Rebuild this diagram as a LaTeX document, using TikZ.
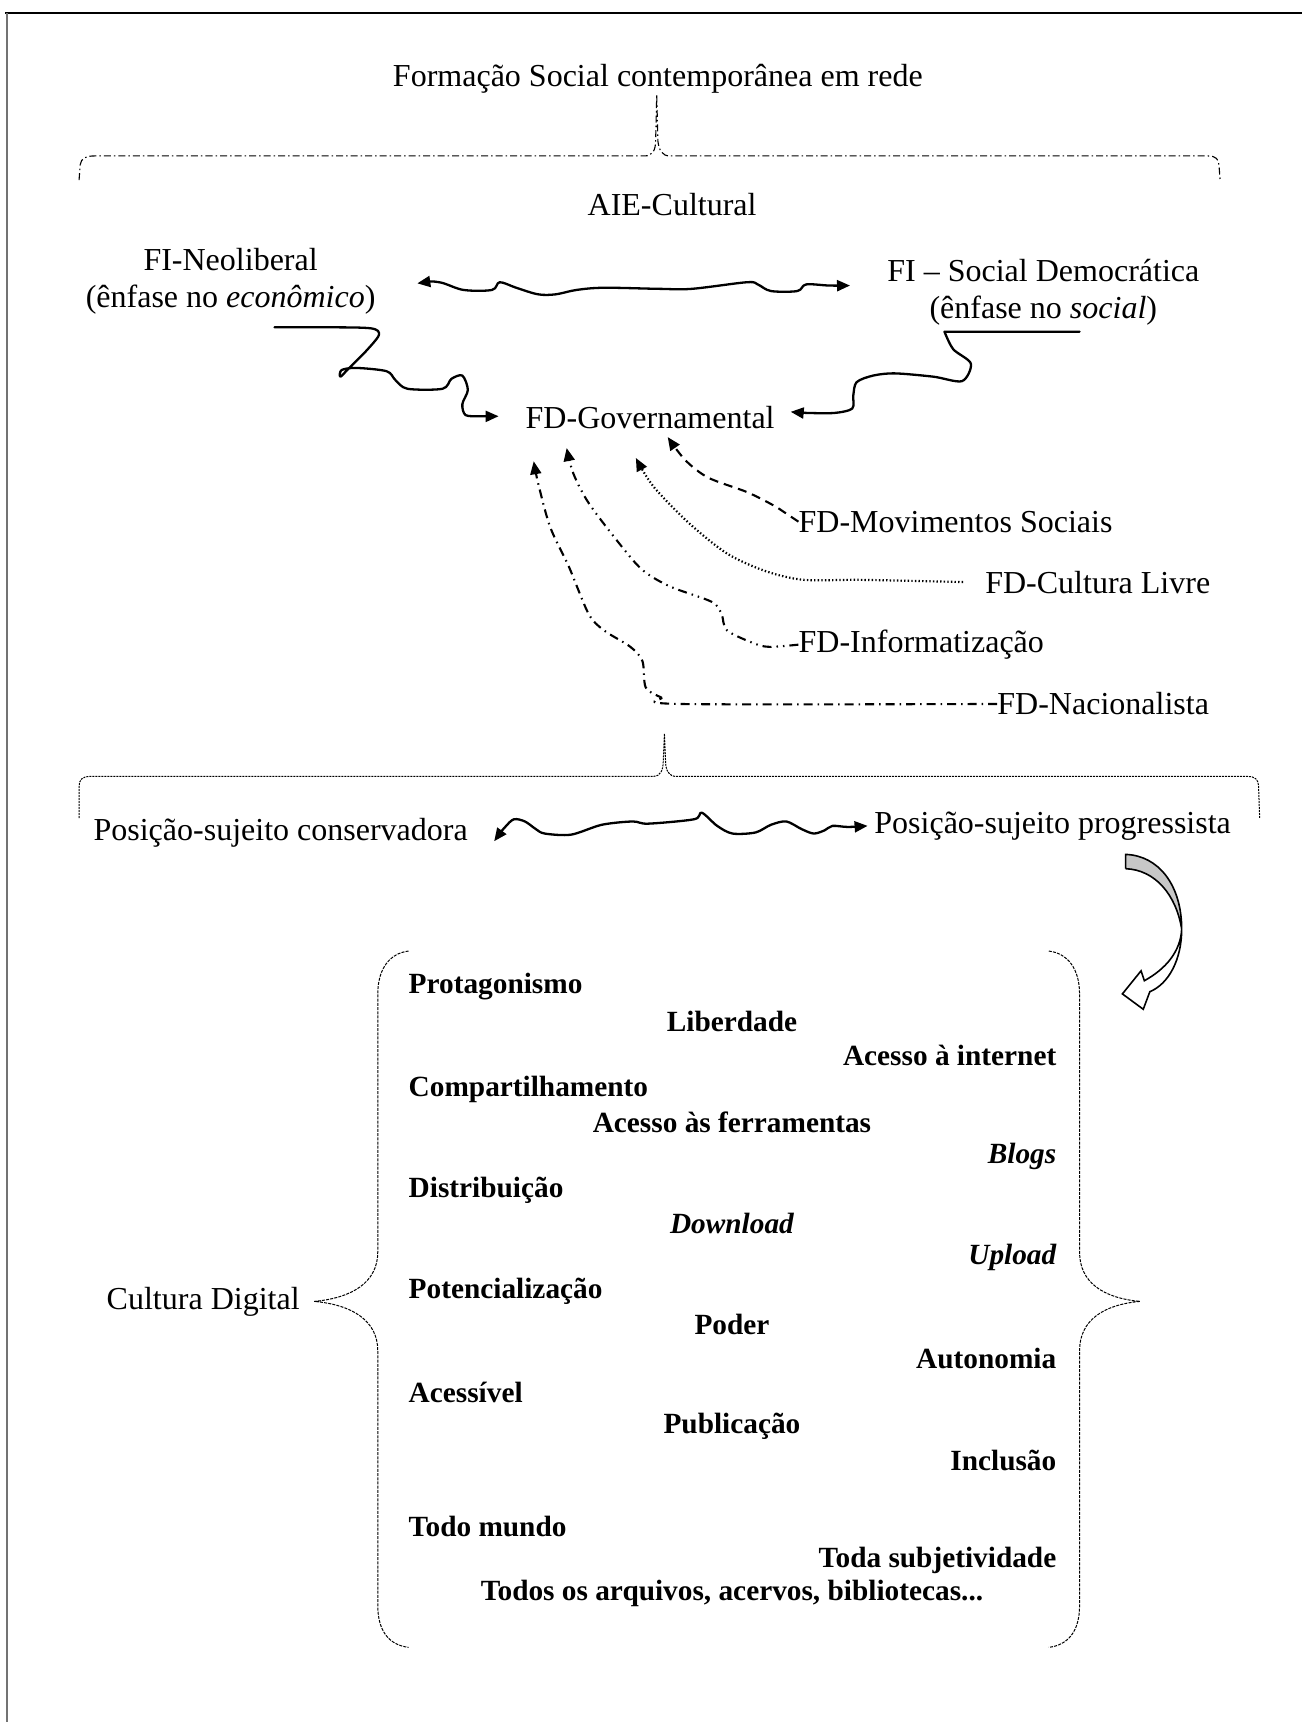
\documentclass[tikz,border=0pt]{standalone}
\usepackage{fontspec}
\setmainfont{Liberation Serif}
\usetikzlibrary{arrows.meta}
\begin{document}
\begin{tikzpicture}[x=1.0978pt,y=-1.0978pt,
  lbl/.style={inner sep=0pt, font=\fontsize{32}{37}\selectfont},
  kw/.style={inner sep=0pt, font=\fontsize{29.3}{34}\selectfont\bfseries},
  wave/.style={line width=2.3pt, line join=round, line cap=round},
  tip/.style={-{Triangle[length=13pt,width=11pt]}},
  twotip/.style={{Triangle[length=13pt,width=11pt]}-{Triangle[length=13pt,width=11pt]}},
  feed/.style={line width=2.1pt, -{Triangle[length=13pt,width=11pt]}},
  brace1/.style={line width=1.1pt, dash pattern=on 7pt off 3pt on 1.5pt off 3pt},
  brace2/.style={line width=1pt, dash pattern=on 2pt off 1pt},
  brace3/.style={line width=1pt, dash pattern=on 3pt off 1.2pt},
]
\useasboundingbox (0,0) rectangle (1186,1568);

% outer frame
\draw[line width=1.5pt] (5,12) -- (1186,12);
\draw[line width=2pt, black!55] (6,12) -- (6,1568);

% ---------- upper part ----------
\node[lbl] (title) at (599,72) {Formação Social contemporânea em rede};
\draw[brace1] (72,164) -- (73,150) .. controls (74,144) and (78,142) .. (86,142)
  -- (587,142) .. controls (594,142) and (597,137) .. (597,128) -- (598,86)
  -- (599,128) .. controls (600,137) and (603,142) .. (610,142)
  -- (1100,142) .. controls (1107,142) and (1110,145) .. (1110,151) -- (1111,164);

\node[lbl] (aie) at (612,186) {AIE-Cultural};
\node[lbl, align=center] (neo) at (210,256) {FI-Neoliberal\\(ênfase no \textit{econômico})};
\node[lbl, align=center] (soc) at (950,266) {FI -- Social Democrática\\(ênfase no \textit{social})};
\node[lbl] (gov) at (592,380) {FD-Governamental};

\node[lbl, anchor=west] (mov) at (727,475) {FD-Movimentos Sociais};
\node[lbl, anchor=west] (cul) at (897,530) {FD-Cultura Livre};
\node[lbl, anchor=west] (inf) at (727,587) {FD-Informatização};
\node[lbl, anchor=west] (nac) at (908,641) {FD-Nacionalista};

% tension between the two ideological formations
\coordinate (neoR) at (380,258);
\coordinate (socL) at (774,260);
\draw[wave, twotip] plot[smooth, tension=0.55] coordinates {
  (neoR) (400,257) (422,264) (448,264) (455,257) (470,262) (490,268) (506,268)
  (525,264) (550,262) (600,263) (630,263) (680,257) (690,259) (702,265)
  (726,265) (734,259) (755,260) (socL)};

% FI-Neoliberal -> FD-Governamental
\coordinate (neoS) at (250,298);
\coordinate (govL) at (454,379);
\draw[wave, tip] plot[smooth, tension=0.5] coordinates {
  (neoS) (300,298) (338,299) (345,305) (333,320) (318,335) (310,343)
  (311,337) (324,335) (352,338) (360,346) (371,354) (403,354) (411,345)
  (421,342) (426,355) (421,368) (424,378) (438,379) (govL)};

% FI - Social Democratica -> FD-Governamental
\coordinate (socS) at (983,302);
\coordinate (govR) at (720,375);
\draw[wave, tip] (socS) -- (860,302)
  plot[smooth, tension=0.5] coordinates {
  (860,302) (868,318) (884,331) (876,347) (850,343) (815,340) (795,342)
  (780,348) (777,360) (776,372) (760,376) (735,376) (govR)};

% discursive formations feeding the governmental one
\coordinate (govA) at (608,398);
\coordinate (govB) at (579,417);
\coordinate (govC) at (516,408);
\coordinate (govD) at (486,420);
\draw[feed, dash pattern=on 9pt off 6pt] plot[smooth, tension=0.5] coordinates {
  (mov.west) (715,467) (704,460) (680,448) (645,435) (624,419) (govA)};
\draw[feed, line width=2.2pt, dash pattern=on 1.4pt off 2.2pt] plot[smooth, tension=0.5] coordinates {
  ([xshift=-22pt]cul.west) (785,528) (732,528) (697,520) (662,504) (627,476) (595,443) (govB)};
\draw[feed, dash pattern=on 9pt off 5pt on 1.5pt off 5pt on 1.5pt off 5pt] plot[smooth, tension=0.5] coordinates {
  (inf.west) (701,589) (687,586) (662,574) (657,559) (648,548) (610,534)
  (585,519) (564,495) (536,458) (522,431) (govC)};
\draw[feed, dash pattern=on 9pt off 5pt on 1.5pt off 5pt] plot[smooth, tension=0.5] coordinates {
  (nac.west) (619,641) (602,635) (588,626) (585,602) (574,589) (550,574)
  (536,559) (518,516) (501,480) (490,440) (govD)};

% ---------- middle part ----------
\draw[brace2] (72,745) -- (72,716) .. controls (72,710) and (75,707) .. (82,707)
  -- (595,707) .. controls (601,707) and (604,702) .. (604,692) -- (605,668)
  -- (606,692) .. controls (606,702) and (609,707) .. (616,707)
  -- (1136,707) .. controls (1143,707) and (1146,710) .. (1146,716) -- (1147,745);

\node[lbl, anchor=west] (cons) at (85,758) {Posição-sujeito conservadora};
\node[lbl, anchor=west] (prog) at (796,752) {Posição-sujeito progressista};

\coordinate (consR) at (450,766);
\coordinate (progL) at (790,752);
\draw[wave, twotip] plot[smooth, tension=0.5] coordinates {
  (consR) (460,753) (468,746) (478,748) (488,755) (496,759) (520,760)
  (548,751) (576,748) (590,750) (632,746) (639,740) (653,752) (667,759)
  (688,758) (702,751) (716,748) (730,755) (741,759) (751,756) (758,752)
  (772,753) (progL)};

% curved block arrow towards the digital culture
\fill[black!22] (1025,778) .. controls (1055,779) and (1076,806) .. (1076,846)
  .. controls (1071,815) and (1052,792) .. (1025,791) -- cycle;
\draw[line width=1.6pt, line join=miter]
  (1025,791) -- (1025,778) .. controls (1055,779) and (1076,806) .. (1076,846)
  .. controls (1076,874) and (1064,896) .. (1047,903)
  -- (1041,919) -- (1022,905) -- (1039,884) -- (1042,893)
  .. controls (1062,882) and (1075,866) .. (1076,846)
  .. controls (1071,815) and (1052,792) .. (1025,791);

% ---------- lower part ----------
\node[lbl, anchor=west] (cd) at (97,1185) {Cultura Digital};
\draw[brace3] (372,866) .. controls (355,868) and (344,882) .. (344,905)
  -- (344,1140) .. controls (344,1168) and (320,1182) .. (286,1185)
  .. controls (320,1188) and (344,1202) .. (344,1230)
  -- (344,1462) .. controls (344,1486) and (355,1498) .. (372,1500);
\draw[brace3] (955,866) .. controls (972,868) and (983,882) .. (983,905)
  -- (983,1140) .. controls (983,1168) and (1005,1182) .. (1038,1185)
  .. controls (1005,1188) and (983,1202) .. (983,1230)
  -- (983,1462) .. controls (983,1486) and (972,1498) .. (955,1500);

\node[kw, anchor=west] (k1) at (372,898) {Protagonismo};
\node[kw] (k2) at (666.5,930) {Liberdade};
\node[kw, anchor=east] (k3) at (962,961) {Acesso à internet};
\node[kw, anchor=west] (k4) at (372,992) {Compartilhamento};
\node[kw] (k5) at (666.5,1022) {Acesso às ferramentas};
\node[kw, anchor=east] (k6) at (962,1053) {\itshape Blogs};
\node[kw, anchor=west] (k7) at (372,1084) {Distribuição};
\node[kw] (k8) at (666.5,1114) {\itshape Download};
\node[kw, anchor=east] (k9) at (962,1145) {\itshape Upload};
\node[kw, anchor=west] (k10) at (372,1176) {Potencialização};
\node[kw] (k11) at (666.5,1206) {Poder};
\node[kw, anchor=east] (k12) at (962,1237) {Autonomia};
\node[kw, anchor=west] (k13) at (372,1268) {Acessível};
\node[kw] (k14) at (666.5,1299) {Publicação};
\node[kw, anchor=east] (k15) at (962,1330) {Inclusão};
\node[kw, anchor=west] (k16) at (372,1390) {Todo mundo};
\node[kw, anchor=east] (k17) at (962,1421) {Toda subjetividade};
\node[kw] (k18) at (666.5,1451) {Todos os arquivos, acervos, bibliotecas...};
\end{tikzpicture}
\end{document}
